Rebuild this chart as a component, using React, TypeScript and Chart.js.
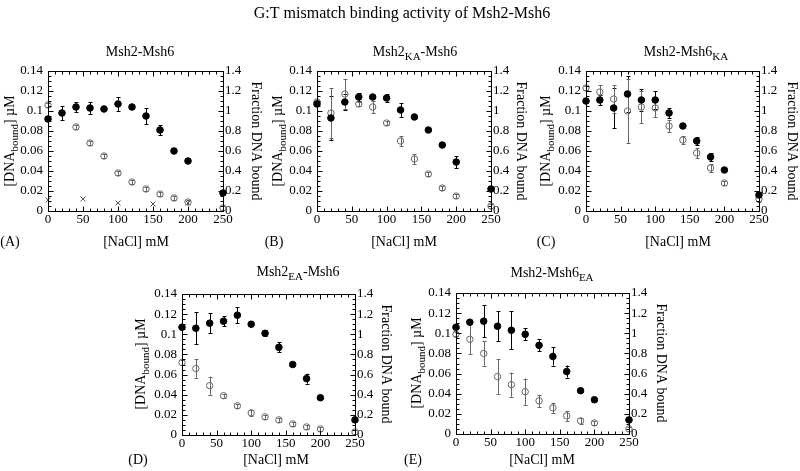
import React, { useEffect, useRef } from "react";
import { Chart, registerables } from "chart.js";
Chart.register(...registerables);

const FONT = '"Liberation Serif", "Times New Roman", serif';

// ---- shared axes ----
const NACL = [0, 20, 40, 60, 80, 100, 120, 140, 160, 180, 200, 250];
const X_TICKS = [0, 50, 100, 150, 200, 250];
const X_TICK_LABELS = ["0", "50", "100", "150", "200", "250"];
const LEFT_TICKS = [0, 0.02, 0.04, 0.06, 0.08, 0.1, 0.12, 0.14];
const LEFT_TICK_LABELS = ["0", "0.02", "0.04", "0.06", "0.08", "0.1", "0.12", "0.14"];
const RIGHT_TICKS = [0, 0.2, 0.4, 0.6, 0.8, 1.0, 1.2, 1.4];
const RIGHT_TICK_LABELS = ["0", "0.2", "0.4", "0.6", "0.8", "1", "1.2", "1.4"];

// ---- panel A: Msh2-Msh6 ----
const A_FILLED = [0.92, 0.98, 1.04, 1.03, 1.02, 1.07, 1.04, 0.95, 0.81, 0.6, 0.5, 0.18];
const A_FILLED_ERR = [0.01, 0.07, 0.05, 0.06, 0.01, 0.07, 0.01, 0.08, 0.05, 0.01, 0.01, 0.01];
const A_OPEN_X = [0, 40, 60, 80, 100, 120, 140, 160, 180, 200, 250];
const A_OPEN = [0.106, 0.084, 0.068, 0.055, 0.038, 0.029, 0.022, 0.017, 0.013, 0.009, 0.003];
const A_OPEN_ERR = [0.002, 0.002, 0.002, 0.002, 0.002, 0.002, 0.002, 0.002, 0.002, 0.002, 0.002];
const A_CROSS_X = [0, 50, 100, 150, 200];
const A_CROSS = [0.011, 0.012, 0.008, 0.007, 0.008];

// ---- panel B: Msh2KA-Msh6 ----
const B_FILLED = [1.07, 0.93, 1.09, 1.14, 1.14, 1.13, 1.01, 0.94, 0.81, 0.66, 0.49, 0.22];
const B_FILLED_ERR = [0.01, 0.22, 0.08, 0.04, 0.01, 0.04, 0.07, 0.01, 0.01, 0.01, 0.06, 0.01];
const B_OPEN = [0.109, 0.098, 0.117, 0.107, 0.104, 0.088, 0.07, 0.052, 0.037, 0.023, 0.015, 0.005];
const B_OPEN_ERR = [0.002, 0.025, 0.015, 0.002, 0.006, 0.002, 0.005, 0.005, 0.002, 0.002, 0.002, 0.002];

// ---- panel C: Msh2-Msh6KA ----
const C_FILLED = [1.1, 1.11, 1.03, 1.17, 1.11, 1.11, 0.98, 0.85, 0.7, 0.54, 0.41, 0.16];
const C_FILLED_ERR = [0.01, 0.05, 0.2, 0.18, 0.11, 0.09, 0.05, 0.01, 0.04, 0.04, 0.01, 0.01];
const C_OPEN = [0.123, 0.119, 0.112, 0.1, 0.104, 0.103, 0.085, 0.071, 0.058, 0.043, 0.028, 0.012];
const C_OPEN_ERR = [0.002, 0.007, 0.014, 0.032, 0.016, 0.009, 0.006, 0.004, 0.005, 0.004, 0.002, 0.003];

// ---- panel D: Msh2EA-Msh6 ----
const D_FILLED = [1.07, 1.06, 1.11, 1.13, 1.19, 1.1, 1.01, 0.87, 0.7, 0.56, 0.37, 0.15];
const D_FILLED_ERR = [0.01, 0.16, 0.1, 0.05, 0.08, 0.01, 0.03, 0.05, 0.01, 0.05, 0.01, 0.01];
const D_OPEN = [0.072, 0.066, 0.049, 0.039, 0.029, 0.022, 0.018, 0.015, 0.011, 0.008, 0.006, 0.003];
const D_OPEN_ERR = [0.002, 0.009, 0.009, 0.002, 0.002, 0.003, 0.002, 0.002, 0.002, 0.002, 0.002, 0.002];

// ---- panel E: Msh2-Msh6EA ----
const E_FILLED = [1.06, 1.11, 1.12, 1.07, 1.03, 0.99, 0.88, 0.77, 0.62, 0.43, 0.34, 0.14];
const E_FILLED_ERR = [0.01, 0.01, 0.16, 0.15, 0.19, 0.06, 0.06, 0.09, 0.06, 0.01, 0.01, 0.01];
const E_OPEN = [0.099, 0.094, 0.08, 0.057, 0.049, 0.042, 0.033, 0.026, 0.018, 0.013, 0.011, 0.005];
const E_OPEN_ERR = [0.002, 0.015, 0.012, 0.017, 0.012, 0.013, 0.006, 0.005, 0.005, 0.003, 0.002, 0.002];

type Part = { t: string; sub?: boolean };
type TextItem = { parts: Part[]; x: number; y: number; size: number; rot?: number };

const LEFT_TITLE: Part[] = [{ t: "[DNA" }, { t: "bound", sub: true }, { t: "] µM" }];
const RIGHT_TITLE: Part[] = [{ t: "Fraction DNA bound" }];
const X_TITLE: Part[] = [{ t: "[NaCl] mM" }];

type Panel = {
  rect: { l: number; r: number; t: number; b: number };
  texts: TextItem[];
  filled: number[];
  filledErr: number[];
  openX: number[];
  open: number[];
  openErr: number[];
  crossX?: number[];
  cross?: number[];
};

function panelTexts(
  title: Part[], tx: number, ty: number,
  xtx: number, xty: number, label: string, lx: number,
  leftX: number, rightX: number, midY: number
): TextItem[] {
  return [
    { parts: title, x: tx, y: ty, size: 14 },
    { parts: X_TITLE, x: xtx, y: xty, size: 14 },
    { parts: [{ t: label }], x: lx, y: xty, size: 14 },
    { parts: LEFT_TITLE, x: leftX, y: midY, size: 14, rot: -Math.PI / 2 },
    { parts: RIGHT_TITLE, x: rightX, y: midY, size: 14, rot: Math.PI / 2 },
  ];
}

const PANELS: Panel[] = [
  {
    rect: { l: 48, r: 223, t: 71, b: 211 },
    texts: [
      { parts: [{ t: "G:T mismatch binding activity of Msh2-Msh6" }], x: 402, y: 12, size: 16 },
      ...panelTexts([{ t: "Msh2-Msh6" }], 140, 51, 136, 241, "(A)", 10, 9, 257, 141),
    ],
    filled: A_FILLED, filledErr: A_FILLED_ERR,
    openX: A_OPEN_X, open: A_OPEN, openErr: A_OPEN_ERR,
    crossX: A_CROSS_X, cross: A_CROSS,
  },
  {
    rect: { l: 317, r: 491, t: 71, b: 211 },
    texts: panelTexts([{ t: "Msh2" }, { t: "KA", sub: true }, { t: "-Msh6" }], 415, 51, 404, 241, "(B)", 274, 277, 522, 141),
    filled: B_FILLED, filledErr: B_FILLED_ERR,
    openX: NACL, open: B_OPEN, openErr: B_OPEN_ERR,
  },
  {
    rect: { l: 586, r: 759, t: 71, b: 211 },
    texts: panelTexts([{ t: "Msh2-Msh6" }, { t: "KA", sub: true }], 686, 51, 678, 241, "(C)", 546, 545, 793, 141),
    filled: C_FILLED, filledErr: C_FILLED_ERR,
    openX: NACL, open: C_OPEN, openErr: C_OPEN_ERR,
  },
  {
    rect: { l: 182, r: 355, t: 294, b: 435 },
    texts: panelTexts([{ t: "Msh2" }, { t: "EA", sub: true }, { t: "-Msh6" }], 298, 271, 276, 459, "(D)", 138, 140, 387, 364),
    filled: D_FILLED, filledErr: D_FILLED_ERR,
    openX: NACL, open: D_OPEN, openErr: D_OPEN_ERR,
  },
  {
    rect: { l: 456, r: 629, t: 293, b: 434 },
    texts: panelTexts([{ t: "Msh2-Msh6" }, { t: "EA", sub: true }], 552, 272, 542, 459, "(E)", 413, 416, 662, 363),
    filled: E_FILLED, filledErr: E_FILLED_ERR,
    openX: NACL, open: E_OPEN, openErr: E_OPEN_ERR,
  },
];

function drawRich(ctx: CanvasRenderingContext2D, item: TextItem) {
  const size = item.size;
  const sub = Math.round(size * 0.78);
  ctx.save();
  ctx.translate(item.x, item.y);
  ctx.rotate(item.rot || 0);
  ctx.fillStyle = "#000";
  ctx.textBaseline = "alphabetic";
  ctx.textAlign = "left";
  const widths = item.parts.map((p) => {
    ctx.font = `${p.sub ? sub : size}px ${FONT}`;
    return ctx.measureText(p.t).width;
  });
  const total = widths.reduce((a, b) => a + b, 0);
  let x = -total / 2;
  const base = size * 0.35;
  item.parts.forEach((p, i) => {
    ctx.font = `${p.sub ? sub : size}px ${FONT}`;
    ctx.fillText(p.t, x, base + (p.sub ? size * 0.3 : 0));
    x += widths[i];
  });
  ctx.restore();
}

function makePlugin(panel: Panel) {
  return {
    id: "decor",
    beforeDatasetsDraw(chart: any) {
      const ctx: CanvasRenderingContext2D = chart.ctx;
      const xs = chart.scales.x;
      ctx.save();
      chart.data.datasets.forEach((ds: any) => {
        if (!ds.errs) return;
        const ys = chart.scales[ds.yAxisID];
        ctx.strokeStyle = ds.errColor;
        ctx.lineWidth = 1;
        ds.data.forEach((pt: any, i: number) => {
          const e = ds.errs[i];
          if (!e) return;
          const px = Math.round(xs.getPixelForValue(pt.x)) + 0.5;
          const y1 = ys.getPixelForValue(pt.y + e);
          const y2 = ys.getPixelForValue(pt.y - e);
          ctx.beginPath();
          ctx.moveTo(px, y1);
          ctx.lineTo(px, y2);
          ctx.moveTo(px - 2, Math.round(y1) + 0.5);
          ctx.lineTo(px + 2, Math.round(y1) + 0.5);
          ctx.moveTo(px - 2, Math.round(y2) + 0.5);
          ctx.lineTo(px + 2, Math.round(y2) + 0.5);
          ctx.stroke();
        });
      });
      ctx.restore();
    },
    afterDraw(chart: any) {
      const ctx: CanvasRenderingContext2D = chart.ctx;
      const { left, right, top, bottom } = chart.chartArea;
      const xs = chart.scales.x;
      const ys = chart.scales.y;
      ctx.save();
      ctx.strokeStyle = "#000";
      ctx.lineWidth = 1;
      const l = Math.round(left) + 0.5, r = Math.round(right) + 0.5;
      const t = Math.round(top) + 0.5, b = Math.round(bottom) + 0.5;
      ctx.strokeRect(l, t, r - l, b - t);
      ctx.beginPath();
      for (let v = 0; v <= 250; v += 10) {
        const len = v % 50 === 0 ? 5 : 3;
        const px = Math.round(xs.getPixelForValue(v)) + 0.5;
        ctx.moveTo(px, b); ctx.lineTo(px, b - len);
        ctx.moveTo(px, t); ctx.lineTo(px, t + len);
      }
      for (let k = 0; k <= 28; k++) {
        const v = k * 0.005;
        const len = k % 4 === 0 ? 5 : 3;
        const py = Math.round(ys.getPixelForValue(v)) + 0.5;
        ctx.moveTo(l, py); ctx.lineTo(l + len, py);
        ctx.moveTo(r, py); ctx.lineTo(r - len, py);
      }
      ctx.stroke();
      ctx.restore();
      panel.texts.forEach((it) => drawRich(ctx, it));
    },
  };
}

function buildConfig(panel: Panel): any {
  const { l, r, t, b } = panel.rect;
  const datasets: any[] = [
    {
      label: "filled",
      yAxisID: "y2",
      data: NACL.map((x, i) => ({ x, y: panel.filled[i] })),
      errs: panel.filledErr,
      errColor: "#000",
      showLine: false,
      pointRadius: 3.3,
      pointBackgroundColor: "#000",
      pointBorderColor: "#000",
      pointBorderWidth: 1,
      clip: false,
    },
    {
      label: "open",
      yAxisID: "y",
      data: panel.openX.map((x, i) => ({ x, y: panel.open[i] })),
      errs: panel.openErr,
      errColor: "#666",
      showLine: false,
      pointRadius: 3.2,
      pointBackgroundColor: "rgba(255,255,255,0)",
      pointBorderColor: "#666",
      pointBorderWidth: 1,
      clip: false,
    },
  ];
  if (panel.crossX && panel.cross) {
    datasets.push({
      label: "cross",
      yAxisID: "y",
      data: panel.crossX.map((x, i) => ({ x, y: panel.cross![i] })),
      showLine: false,
      pointStyle: "crossRot",
      pointRadius: 3.5,
      pointBorderColor: "#555",
      pointBorderWidth: 1,
      clip: false,
    });
  }
  const tickFont = { family: FONT, size: 13 };
  return {
    type: "scatter",
    data: { datasets },
    options: {
      animation: false,
      responsive: false,
      devicePixelRatio: 1,
      events: [],
      layout: {
        padding: { left: l - 40, right: 800 - r - 40, top: t, bottom: 471 - b - 20 },
      },
      plugins: { legend: { display: false }, tooltip: { enabled: false }, title: { display: false } },
      scales: {
        x: {
          type: "linear",
          position: "bottom",
          min: 0,
          max: 250,
          afterBuildTicks: (s: any) => { s.ticks = X_TICKS.map((v) => ({ value: v })); },
          afterFit: (s: any) => { s.height = 20; },
          ticks: {
            font: tickFont, color: "#000", padding: 1, autoSkip: false, maxRotation: 0,
            callback: (_v: any, i: number) => X_TICK_LABELS[i],
          },
          grid: { display: false, drawTicks: false },
          border: { display: false },
        },
        y: {
          type: "linear",
          position: "left",
          min: 0,
          max: 0.14,
          afterBuildTicks: (s: any) => { s.ticks = LEFT_TICKS.map((v) => ({ value: v })); },
          afterFit: (s: any) => { s.width = 40; },
          ticks: {
            font: tickFont, color: "#000", padding: 5, autoSkip: false,
            callback: (_v: any, i: number) => LEFT_TICK_LABELS[i],
          },
          grid: { display: false, drawTicks: false },
          border: { display: false },
        },
        y2: {
          type: "linear",
          position: "right",
          min: 0,
          max: 1.4,
          afterBuildTicks: (s: any) => { s.ticks = RIGHT_TICKS.map((v) => ({ value: v })); },
          afterFit: (s: any) => { s.width = 40; },
          ticks: {
            font: tickFont, color: "#000", padding: 2, autoSkip: false,
            callback: (_v: any, i: number) => RIGHT_TICK_LABELS[i],
          },
          grid: { display: false, drawTicks: false },
          border: { display: false },
        },
      },
    },
    plugins: [makePlugin(panel)],
  };
}

export default function App() {
  const refs = useRef<(HTMLCanvasElement | null)[]>([]);
  useEffect(() => {
    document.body.style.margin = "0";
    document.body.style.background = "#fff";
    const charts = PANELS.map((p, i) => {
      const c = refs.current[i]!;
      return new Chart(c.getContext("2d")!, buildConfig(p));
    });
    return () => charts.forEach((c) => c.destroy());
  }, []);
  return (
    <div style={{ position: "absolute", left: 0, top: 0, width: 800, height: 471, background: "#fff" }}>
      {PANELS.map((_, i) => (
        <canvas
          key={i}
          ref={(el) => { refs.current[i] = el; }}
          width={800}
          height={471}
          style={{ position: "absolute", left: 0, top: 0, width: 800, height: 471 }}
        />
      ))}
    </div>
  );
}
